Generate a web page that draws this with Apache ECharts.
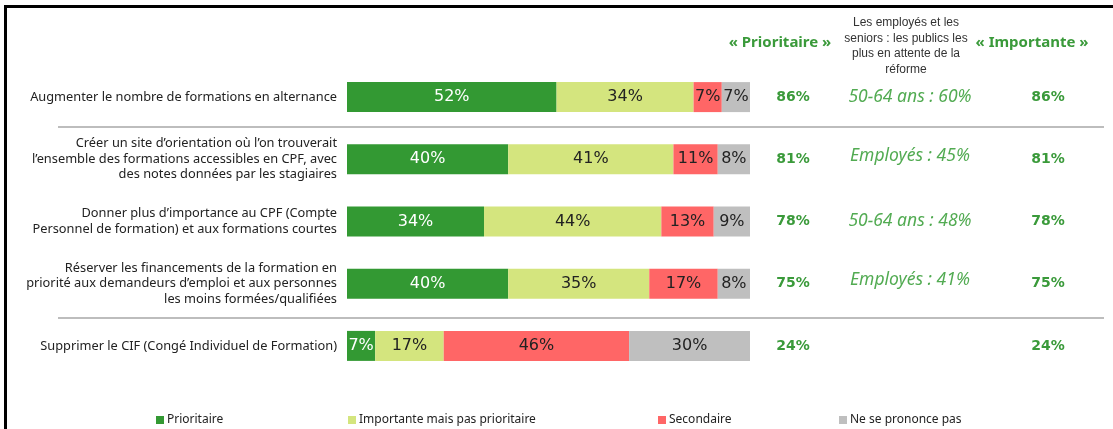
<!DOCTYPE html>
<html><head><meta charset="utf-8">
<script src="https://cdn.jsdelivr.net/npm/echarts@6/dist/echarts.min.js"></script>
<style>html,body{margin:0;padding:0;background:#fff}#c{width:1113px;height:429px}</style>
</head><body><div id="c"></div>
<script>
const categories = [
  "Augmenter le nombre de formations en alternance",
  "Créer un site d’orientation où l’on trouverait\nl’ensemble des formations accessibles en CPF, avec\ndes notes données par les stagiaires",
  "Donner plus d’importance au CPF (Compte\nPersonnel de formation) et aux formations courtes",
  "Réserver les financements de la formation en\npriorité aux demandeurs d’emploi et aux personnes\nles moins formées/qualifiées",
  "Supprimer le CIF (Congé Individuel de Formation)"
];
const seriesNames = ["Prioritaire", "Importante mais pas prioritaire", "Secondaire", "Ne se prononce pas"];
const prioritaire = [52, 40, 34, 40, 7];
const importante = [34, 41, 44, 35, 17];
const secondaire = [7, 11, 13, 17, 46];
const nsp = [7, 8, 9, 8, 30];
const totalPrioritaire = ["86%", "81%", "78%", "75%", "24%"];
const publics = ["50-64 ans : 60%", "Employés : 45%", "50-64 ans : 48%", "Employés : 41%", ""];
const totalImportante = ["86%", "81%", "78%", "75%", "24%"];

const colors = ["#339933", "#d4e57e", "#ff6666", "#bfbfbf"];
const FONT = "Noto Sans";
const chart = echarts.init(document.getElementById('c'));

function barSeries(name, data, color, labelColor) {
  return {
    name, type: 'bar', stack: 'total', data, barWidth: 30,
    itemStyle: { color },
    label: { show: true, position: 'inside', formatter: '{c}%', color: labelColor, fontSize: 16, fontFamily: 'DejaVu Sans' },
    emphasis: { disabled: true }
  };
}

function rightAxis(data, margin, style) {
  return {
    type: 'category', data, inverse: true, position: 'right', gridIndex: 0,
    axisLine: { show: false }, axisTick: { show: false }, splitLine: { show: false },
    axisLabel: Object.assign({ margin, align: 'center', fontFamily: FONT }, style)
  };
}

const legendLefts = [151, 343, 653, 834];

chart.setOption({
  animation: false,
  backgroundColor: '#fff',
  grid: { left: 347, right: 363, top: 66, bottom: 52, containLabel: false },
  xAxis: { type: 'value', min: 0, max: 100, show: false },
  yAxis: [
    {
      type: 'category', data: categories, inverse: true,
      axisLine: { show: false }, axisTick: { show: false },
      axisLabel: { margin: 10, align: 'right', color: '#222', fontSize: 12.8, lineHeight: 15.5, fontFamily: FONT }
    },
    rightAxis(totalPrioritaire, 43, { color: '#3a9a3a', fontSize: 14, fontWeight: 'bold', fontFamily: 'DejaVu Sans' }),
    rightAxis(publics, 160, {
      formatter: (v, i) => (i % 2 === 1 ? '{up|' + v + '}' : '{n|' + v + '}'),
      rich: {
        n: { color: '#52ab52', fontSize: 17.5, fontStyle: 'italic', fontFamily: FONT },
        up: { color: '#52ab52', fontSize: 17.5, fontStyle: 'italic', fontFamily: FONT, padding: [0, 0, 7, 0] }
      }
    }),
    rightAxis(totalImportante, 298, { color: '#3a9a3a', fontSize: 14, fontWeight: 'bold', fontFamily: 'DejaVu Sans' })
  ],
  legend: seriesNames.map((n, i) => ({
    data: [n], left: legendLefts[i], top: 409, icon: 'rect', itemWidth: 8, itemHeight: 8, itemGap: 4,
    textStyle: { color: '#222', fontSize: 12, fontFamily: FONT, padding: [0, 0, 0, -2] }, selectedMode: false
  })),
  series: [
    barSeries(seriesNames[0], prioritaire, colors[0], '#fff'),
    barSeries(seriesNames[1], importante, colors[1], '#222'),
    barSeries(seriesNames[2], secondaire, colors[2], '#222'),
    barSeries(seriesNames[3], nsp, colors[3], '#222')
  ],
  graphic: [
    { type: 'line', shape: { x1: 4, y1: 6.5, x2: 1113, y2: 6.5 }, style: { stroke: '#000', lineWidth: 3 } },
    { type: 'line', shape: { x1: 5.5, y1: 5, x2: 5.5, y2: 429 }, style: { stroke: '#000', lineWidth: 3 } },
    { type: 'line', shape: { x1: 58, y1: 127, x2: 1104, y2: 127 }, style: { stroke: '#bdbdbd', lineWidth: 2 } },
    { type: 'line', shape: { x1: 58, y1: 318, x2: 1104, y2: 318 }, style: { stroke: '#bdbdbd', lineWidth: 2 } },
    { type: 'text', x: 780, y: 43, style: { text: '« Prioritaire »', fill: '#3a9a3a', font: 'bold 15px "Noto Sans"', textAlign: 'center', textVerticalAlign: 'middle' } },
    { type: 'text', x: 1032, y: 43, style: { text: '« Importante »', fill: '#3a9a3a', font: 'bold 15px "Noto Sans"', textAlign: 'center', textVerticalAlign: 'middle' } },
    { type: 'text', x: 906, y: 46, style: { text: 'Les employés et les\nseniors : les publics les\nplus en attente de la\nréforme', fill: '#333', font: '12px "Liberation Sans"', lineHeight: 15.5, textAlign: 'center', textVerticalAlign: 'middle' } }
  ]
});
</script>
</body></html>
